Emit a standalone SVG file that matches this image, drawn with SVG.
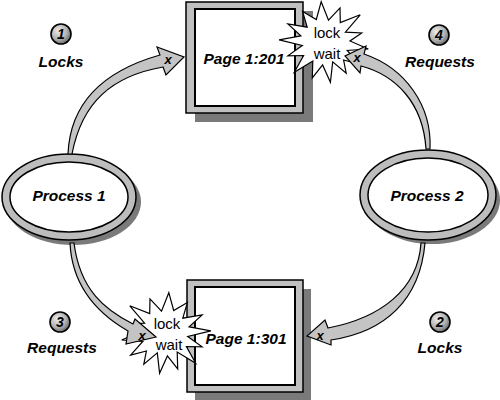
<svg xmlns="http://www.w3.org/2000/svg" width="500" height="400" viewBox="0 0 500 400">
<style>
.t{font-family:"Liberation Sans",Arial,sans-serif;font-weight:bold;font-style:italic;font-size:15.5px;text-anchor:middle;fill:#000}
.w{font-family:"Liberation Sans",Arial,sans-serif;font-size:15px;text-anchor:middle;fill:#000}
.x{font-family:"Liberation Sans",Arial,sans-serif;font-weight:bold;font-style:italic;font-size:13px;text-anchor:middle;fill:#000}
.n{font-family:"Liberation Sans",Arial,sans-serif;font-weight:bold;font-style:italic;font-size:14px;text-anchor:middle;fill:#000}
.shadow{fill:#7a7a7a}
.frame{fill:#c0c0c0;stroke:#000;stroke-width:1.5}
.inner{fill:#fff;stroke:#000;stroke-width:2}
.ring{fill:#bdbdbd;stroke:#000;stroke-width:1.5}
.iring{fill:#fff;stroke:#000;stroke-width:1.5}
.burst{fill:#fff;stroke:#000;stroke-width:1.2;stroke-linejoin:miter}
.arrow{fill:#c4c4c4;stroke:#000;stroke-width:1.2;stroke-linejoin:miter}
.num{fill:url(#ball);stroke:#000;stroke-width:1.6}
</style>
<defs>
<radialGradient id="ball" cx="0.38" cy="0.35" r="0.7">
<stop offset="0" stop-color="#eeeeee"/>
<stop offset="0.6" stop-color="#b0b0b0"/>
<stop offset="1" stop-color="#666666"/>
</radialGradient>
<polygon id="star" class="burst" points="-3.8,-40.3 3.5,-21.8 15,-34.1 15.3,-19.4 35.2,-27.2 20.4,-9.8 36.7,-9 25,-1 43.3,7 22.2,8.5 34.4,22.2 18.6,18 21.2,31.2 7.7,19.9 5.4,40.2 -2.4,22.9 -12.7,35.9 -12.2,19 -30.7,30.3 -21.4,13.5 -37.1,13.8 -22.7,3.5 -45.9,-2.2 -24.1,-6.1 -37.1,-18.1 -17.8,-14.8 -22.4,-30.5 -8.7,-22.5"/>
</defs>
<rect width="500" height="400" fill="#fff"/>

<g id="page201">
<rect class="shadow" x="195" y="11" width="118" height="111"/>
<rect class="frame" x="186" y="2" width="117" height="111"/>
<rect class="inner" x="195" y="9" width="100" height="97"/>
<text class="t" x="244" y="64">Page 1:201</text>
</g>

<g id="page301">
<rect class="shadow" x="195" y="289" width="116" height="111"/>
<rect class="frame" x="187" y="280" width="116" height="112"/>
<rect class="inner" x="195" y="287" width="100" height="98"/>
<text class="t" x="246" y="344">Page 1:301</text>
</g>

<g id="process1">
<ellipse class="shadow" cx="73" cy="202" rx="68" ry="43"/>
<ellipse class="ring" cx="69" cy="197" rx="67" ry="43"/>
<ellipse class="iring" cx="69" cy="197" rx="59" ry="35"/>
<text class="t" x="69" y="201">Process 1</text>
</g>

<g id="process2">
<ellipse class="shadow" cx="432" cy="200" rx="68" ry="44"/>
<ellipse class="ring" cx="428" cy="195" rx="68" ry="45"/>
<ellipse class="iring" cx="428" cy="195" rx="60" ry="37"/>
<text class="t" x="427" y="201">Process 2</text>
</g>

<g id="wait201">
<use href="#star" transform="translate(325,42)"/>
<text class="w" x="327" y="38">lock</text>
<text class="w" x="327" y="59">wait</text>
</g>

<g id="wait301">
<use href="#star" transform="translate(165,333) scale(-1,1)"/>
<text class="w" x="167" y="329">lock</text>
<text class="w" x="169" y="350">wait</text>
</g>

<g id="step1">
<circle class="num" cx="61" cy="34" r="10"/>
<text class="n" x="61" y="39">1</text>
<text class="t" x="61" y="67">Locks</text>
</g>
<g id="step2">
<circle class="num" cx="440" cy="322" r="10"/>
<text class="n" x="440" y="327">2</text>
<text class="t" x="440" y="353">Locks</text>
</g>
<g id="step3">
<circle class="num" cx="60" cy="322" r="10"/>
<text class="n" x="60" y="327">3</text>
<text class="t" x="62" y="353">Requests</text>
</g>
<g id="step4">
<circle class="num" cx="439" cy="35" r="10"/>
<text class="n" x="439" y="40">4</text>
<text class="t" x="440" y="67">Requests</text>
</g>

<g id="connectors">
<path class="arrow" d="M68,154 C70,105 100,72 160,55 L157,47 L184,57 L166,75 L163,67 C112,76 82,102 72,154 Z"/>
<text class="x" x="168" y="64">x</text>
<path class="arrow" d="M430,149 C432,105 405,68 364,54 L366,46 L345,56 L360,73 L361,66 C395,75 423,102 426,149 Z"/>
<text class="x" x="357" y="62">x</text>
<path class="arrow" d="M70,243 C72,285 95,312 128,331 L126,344 L156,337 L135,319 L133,324 C105,310 80,290 74,243 Z"/>
<text class="x" x="142" y="340">x</text>
<path class="arrow" d="M421,243 C418,290 380,318 328,328 L325,320 L307,336 L331,345 L331,340 C385,332 420,300 425,243 Z"/>
<text class="x" x="320" y="340">x</text>
</g>
</svg>
